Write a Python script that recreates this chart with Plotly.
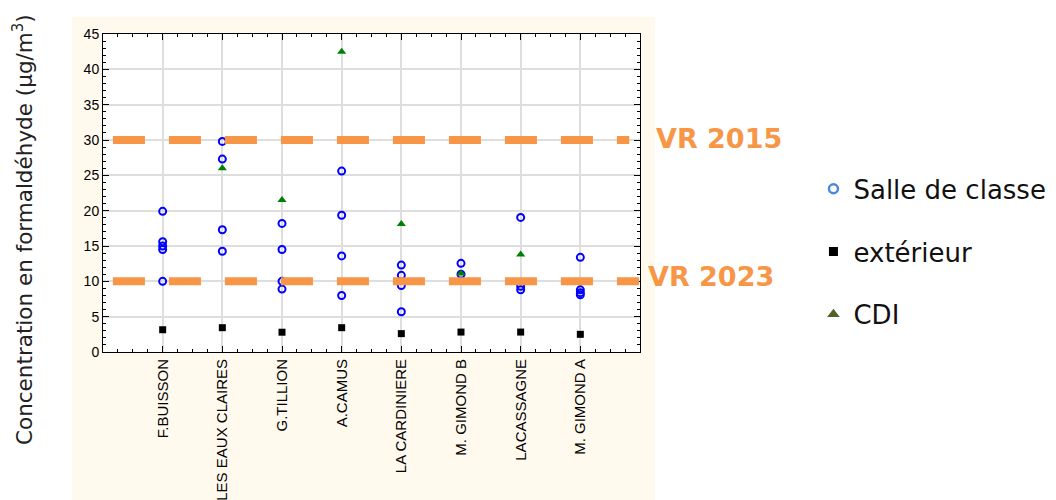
import plotly.graph_objects as go

# ---- data ----
categories = ["F.BUISSON", "LES EAUX CLAIRES", "G.TILLION", "A.CAMUS",
              "LA CARDINIERE", "M. GIMOND B", "LACASSAGNE", "M. GIMOND A"]

salle_sites = ["F.BUISSON"] * 5 + ["LES EAUX CLAIRES"] * 4 + ["G.TILLION"] * 4 + \
              ["A.CAMUS"] * 4 + ["LA CARDINIERE"] * 4 + ["M. GIMOND B"] * 2 + \
              ["LACASSAGNE"] * 3 + ["M. GIMOND A"] * 4
salle_values = [19.9, 15.6, 15.0, 14.5, 10.0,
                29.8, 27.3, 17.3, 14.25,
                18.2, 14.5, 10.0, 8.9,
                25.6, 19.35, 13.6, 8.0,
                12.3, 10.85, 9.4, 5.7,
                12.55, 11.0,
                19.05, 9.3, 8.8,
                13.4, 8.8, 8.4, 8.1]

exterieur_values = [3.15, 3.44, 2.8, 3.44, 2.6, 2.82, 2.82, 2.5]

cdi_sites = ["LES EAUX CLAIRES", "G.TILLION", "A.CAMUS", "LA CARDINIERE",
             "M. GIMOND B", "LACASSAGNE"]
cdi_values = [26.0, 21.5, 42.5, 18.1, 11.1, 13.8]

vr_values = [30, 10]
vr_labels = ["VR 2015", "VR 2023"]

legend_names = ["Salle de classe", "extérieur", "CDI"]

ORANGE = "#F79646"


def pos(site):
    return categories.index(site) + 1


fig = go.Figure()

fig.add_trace(go.Scatter(
    x=[pos(s) for s in salle_sites], y=salle_values, mode="markers",
    marker=dict(symbol="circle-open", size=7, color="#0000FF", line=dict(width=2, color="#0000FF")),
    showlegend=False))
fig.add_trace(go.Scatter(
    x=[pos(s) for s in categories], y=exterieur_values, mode="markers",
    marker=dict(symbol="square", size=7, color="#000000"),
    showlegend=False))
fig.add_trace(go.Scatter(
    x=[pos(s) for s in cdi_sites], y=cdi_values, mode="markers",
    marker=dict(symbol="triangle-up", size=8, color="#008000"),
    showlegend=False))

# legend-only entries (styled like the slide legend)
fig.add_trace(go.Scatter(x=[None], y=[None], mode="markers", name=legend_names[0],
                         legendgroup="a",
                         marker=dict(symbol="circle-open", size=9, color="#4A8ADC",
                                     line=dict(width=2.5, color="#4A8ADC"))))
fig.add_trace(go.Scatter(x=[None], y=[None], mode="markers", name=legend_names[1],
                         legendgroup="b",
                         marker=dict(symbol="square", size=9, color="#000000")))
fig.add_trace(go.Scatter(x=[None], y=[None], mode="markers", name=legend_names[2],
                         legendgroup="c",
                         marker=dict(symbol="triangle-up", size=11, color="#4F6228")))

shapes = [
    dict(type="rect", xref="paper", yref="paper", x0=-0.058, x1=1.028, y0=-0.6, y1=1.0545,
         fillcolor="#FFF9EE", line=dict(width=0), layer="below"),
    dict(type="rect", xref="paper", yref="paper", x0=0, x1=1, y0=0, y1=1,
         fillcolor="#FFFFFF", line=dict(width=0), layer="below"),
]
line_ends = [0.98, 0.998]
for v, x1 in zip(vr_values, line_ends):
    shapes.append(dict(type="line", xref="paper", yref="y", x0=0.0185, x1=x1, y0=v, y1=v,
                       line=dict(color=ORANGE, width=8, dash="32px,24px"), layer="above"))

annotations = [
    dict(text=vr_labels[0], xref="paper", yref="y", x=1.027, y=vr_values[0] + 0.2,
         xanchor="left", yanchor="middle", showarrow=False,
         font=dict(family="DejaVu Sans", size=27, color=ORANGE, weight="bold")),
    dict(text=vr_labels[1], xref="paper", yref="y", x=1.012, y=vr_values[1] + 0.7,
         xanchor="left", yanchor="middle", showarrow=False,
         font=dict(family="DejaVu Sans", size=27, color=ORANGE, weight="bold")),
    dict(text="Concentration en formaldéhyde (µg/m<sup>3</sup>)", xref="paper", yref="paper",
         x=-0.15, y=0.385, xanchor="center", yanchor="middle", textangle=-90, showarrow=False,
         font=dict(family="DejaVu Sans", size=21.5, color="#222222")),
]

# the page body adds an 8px offset, so margins are reduced by 8px on left/top
fig.update_layout(
    width=1056, height=500,
    margin=dict(l=95, r=420, t=26, b=156),
    paper_bgcolor="#FFFFFF", plot_bgcolor="rgba(0,0,0,0)",
    shapes=shapes, annotations=annotations,
    showlegend=True,
    legend=dict(x=1.323, y=0.587, xanchor="left", yanchor="top",
                font=dict(family="DejaVu Sans", size=26, color="#111111"),
                tracegroupgap=26, bgcolor="rgba(0,0,0,0)"),
    xaxis=dict(range=[0, 9], tickmode="array", tickvals=[pos(c) for c in categories],
               ticktext=categories, tickangle=-90, automargin=False,
               tickfont=dict(family="Liberation Sans", size=15, color="#000000"),
               ticks="inside", ticklen=6, tickcolor="#000000",
               showgrid=True, gridcolor="#DEDEDE", gridwidth=1.5,
               showline=True, linecolor="#000000", linewidth=1, mirror="allticks",
               zeroline=False,
               minor=dict(dtick=0.25, tick0=0, ticks="inside", ticklen=3, tickcolor="#000000",
                          showgrid=False)),
    yaxis=dict(range=[0, 45], tickmode="linear", tick0=0, dtick=5, automargin=False,
               tickfont=dict(family="Liberation Sans", size=14, color="#000000"),
               ticks="inside", ticklen=6, tickcolor="#000000",
               showgrid=True, gridcolor="#DEDEDE", gridwidth=1.5,
               showline=True, linecolor="#000000", linewidth=1, mirror="allticks",
               zeroline=False,
               minor=dict(dtick=1, tick0=0, ticks="inside", ticklen=3, tickcolor="#000000",
                          showgrid=False)),
)

fig.write_html("out.html")
